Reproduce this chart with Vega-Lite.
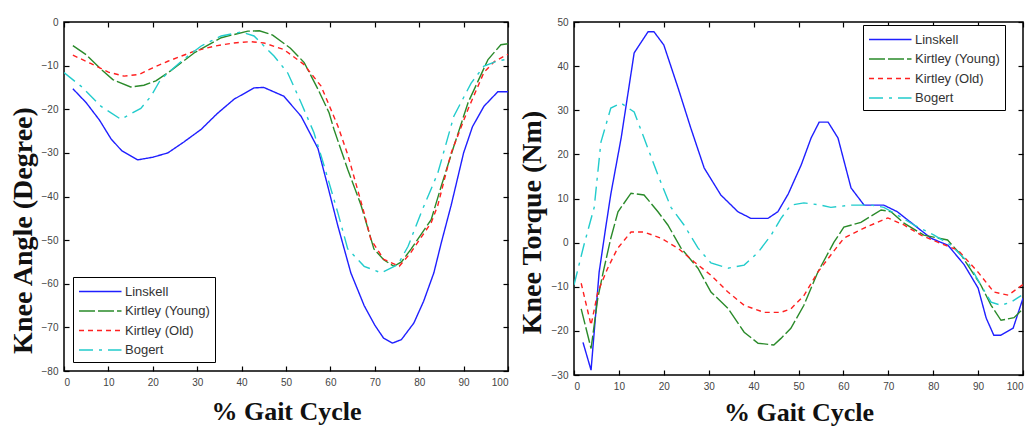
{
  "$schema": "https://vega.github.io/schema/vega-lite/v6.json",
  "autosize": {"type": "pad"},
  "padding": {"left": 8, "top": 16, "right": 0, "bottom": 0},
  "background": "white",
  "bounds": "flush",
  "spacing": 66,
  "config": {
    "view": {"stroke": "black", "strokeWidth": 1.5},
    "axis": {"grid": false, "domain": false, "tickSize": -5, "tickColor": "black", "tickWidth": 1.2, "labelFont": "Liberation Sans", "labelFontSize": 10, "labelColor": "#444", "labelPadding": 11, "titleFont": "Liberation Serif", "titleFontWeight": "bold", "titleColor": "#111"},
    "legend": {"labelFont": "Liberation Sans", "labelFontSize": 13, "labelColor": "#333", "symbolType": "M-1,0H4", "symbolSize": 289, "symbolStrokeWidth": 1.5, "rowPadding": 2.5, "padding": 5, "strokeColor": "black", "fillColor": "white", "orient": "none", "labelOffset": 28}
  },
  "datasets": {
    "angle": [
      {"x": 2, "y": -15.3, "s": "Linskell"}, {"x": 5, "y": -18.5, "s": "Linskell"}, {"x": 8, "y": -22.5, "s": "Linskell"}, {"x": 10.6, "y": -26.8, "s": "Linskell"}, {"x": 13, "y": -29.5, "s": "Linskell"}, {"x": 16.6, "y": -31.6, "s": "Linskell"}, {"x": 20, "y": -31, "s": "Linskell"}, {"x": 23.4, "y": -30, "s": "Linskell"}, {"x": 27, "y": -27.5, "s": "Linskell"}, {"x": 30.9, "y": -24.6, "s": "Linskell"}, {"x": 34.5, "y": -21, "s": "Linskell"}, {"x": 38.3, "y": -17.7, "s": "Linskell"}, {"x": 42.8, "y": -15.1, "s": "Linskell"}, {"x": 45, "y": -15, "s": "Linskell"}, {"x": 49.5, "y": -17, "s": "Linskell"}, {"x": 53.4, "y": -21.6, "s": "Linskell"}, {"x": 57.2, "y": -29, "s": "Linskell"}, {"x": 59.5, "y": -38, "s": "Linskell"}, {"x": 61.7, "y": -46.8, "s": "Linskell"}, {"x": 64.6, "y": -57.5, "s": "Linskell"}, {"x": 67.6, "y": -65, "s": "Linskell"}, {"x": 70, "y": -69.5, "s": "Linskell"}, {"x": 72, "y": -72.5, "s": "Linskell"}, {"x": 74, "y": -73.6, "s": "Linskell"}, {"x": 76, "y": -72.8, "s": "Linskell"}, {"x": 78.8, "y": -69, "s": "Linskell"}, {"x": 81, "y": -64, "s": "Linskell"}, {"x": 83.3, "y": -57.5, "s": "Linskell"}, {"x": 85, "y": -50.5, "s": "Linskell"}, {"x": 87.2, "y": -42, "s": "Linskell"}, {"x": 90, "y": -30, "s": "Linskell"}, {"x": 92, "y": -24, "s": "Linskell"}, {"x": 94.6, "y": -19.3, "s": "Linskell"}, {"x": 97.7, "y": -16, "s": "Linskell"}, {"x": 100, "y": -16, "s": "Linskell"},
      {"x": 2, "y": -5.4, "s": "Kirtley (Young)"}, {"x": 5, "y": -7.5, "s": "Kirtley (Young)"}, {"x": 8, "y": -10.5, "s": "Kirtley (Young)"}, {"x": 11, "y": -13.2, "s": "Kirtley (Young)"}, {"x": 15, "y": -14.9, "s": "Kirtley (Young)"}, {"x": 18, "y": -14.5, "s": "Kirtley (Young)"}, {"x": 20.7, "y": -13.5, "s": "Kirtley (Young)"}, {"x": 24, "y": -11.2, "s": "Kirtley (Young)"}, {"x": 29.3, "y": -7.1, "s": "Kirtley (Young)"}, {"x": 35.4, "y": -3.6, "s": "Kirtley (Young)"}, {"x": 41.4, "y": -2.1, "s": "Kirtley (Young)"}, {"x": 44, "y": -2, "s": "Kirtley (Young)"}, {"x": 47, "y": -3, "s": "Kirtley (Young)"}, {"x": 51, "y": -6, "s": "Kirtley (Young)"}, {"x": 54.1, "y": -9.3, "s": "Kirtley (Young)"}, {"x": 57.2, "y": -15.4, "s": "Kirtley (Young)"}, {"x": 59.7, "y": -20.8, "s": "Kirtley (Young)"}, {"x": 60.8, "y": -24.6, "s": "Kirtley (Young)"}, {"x": 63.9, "y": -33.8, "s": "Kirtley (Young)"}, {"x": 66.9, "y": -42, "s": "Kirtley (Young)"}, {"x": 69.8, "y": -52, "s": "Kirtley (Young)"}, {"x": 72, "y": -54.5, "s": "Kirtley (Young)"}, {"x": 74.3, "y": -56, "s": "Kirtley (Young)"}, {"x": 76, "y": -55, "s": "Kirtley (Young)"}, {"x": 78.2, "y": -52, "s": "Kirtley (Young)"}, {"x": 82.7, "y": -45.3, "s": "Kirtley (Young)"}, {"x": 85, "y": -37.5, "s": "Kirtley (Young)"}, {"x": 87.8, "y": -28.5, "s": "Kirtley (Young)"}, {"x": 91, "y": -18.5, "s": "Kirtley (Young)"}, {"x": 95.5, "y": -8.6, "s": "Kirtley (Young)"}, {"x": 98.4, "y": -5.2, "s": "Kirtley (Young)"}, {"x": 100, "y": -5, "s": "Kirtley (Young)"},
      {"x": 2, "y": -7.6, "s": "Kirtley (Old)"}, {"x": 6, "y": -9.5, "s": "Kirtley (Old)"}, {"x": 10, "y": -11.5, "s": "Kirtley (Old)"}, {"x": 13.5, "y": -12.4, "s": "Kirtley (Old)"}, {"x": 17, "y": -12, "s": "Kirtley (Old)"}, {"x": 20, "y": -10.5, "s": "Kirtley (Old)"}, {"x": 23.4, "y": -9, "s": "Kirtley (Old)"}, {"x": 29.3, "y": -6.7, "s": "Kirtley (Old)"}, {"x": 34, "y": -5.5, "s": "Kirtley (Old)"}, {"x": 38.3, "y": -4.8, "s": "Kirtley (Old)"}, {"x": 42, "y": -4.5, "s": "Kirtley (Old)"}, {"x": 45, "y": -4.8, "s": "Kirtley (Old)"}, {"x": 49.5, "y": -6.3, "s": "Kirtley (Old)"}, {"x": 54, "y": -9.7, "s": "Kirtley (Old)"}, {"x": 57.9, "y": -14.7, "s": "Kirtley (Old)"}, {"x": 61.7, "y": -23.9, "s": "Kirtley (Old)"}, {"x": 64, "y": -30.7, "s": "Kirtley (Old)"}, {"x": 67.6, "y": -43.8, "s": "Kirtley (Old)"}, {"x": 69.1, "y": -49.8, "s": "Kirtley (Old)"}, {"x": 72, "y": -54.4, "s": "Kirtley (Old)"}, {"x": 75.5, "y": -56, "s": "Kirtley (Old)"}, {"x": 78, "y": -53, "s": "Kirtley (Old)"}, {"x": 82.7, "y": -46, "s": "Kirtley (Old)"}, {"x": 84.2, "y": -42, "s": "Kirtley (Old)"}, {"x": 87.2, "y": -30, "s": "Kirtley (Old)"}, {"x": 91, "y": -20, "s": "Kirtley (Old)"}, {"x": 94.6, "y": -11.5, "s": "Kirtley (Old)"}, {"x": 97, "y": -9, "s": "Kirtley (Old)"}, {"x": 100, "y": -7.4, "s": "Kirtley (Old)"},
      {"x": 0, "y": -11.6, "s": "Bogert"}, {"x": 3.8, "y": -14.7, "s": "Bogert"}, {"x": 8.3, "y": -19.3, "s": "Bogert"}, {"x": 12.8, "y": -22.3, "s": "Bogert"}, {"x": 17.3, "y": -19.8, "s": "Bogert"}, {"x": 19.6, "y": -17, "s": "Bogert"}, {"x": 21.8, "y": -13.1, "s": "Bogert"}, {"x": 27, "y": -8.5, "s": "Bogert"}, {"x": 30.9, "y": -5.5, "s": "Bogert"}, {"x": 35.4, "y": -3.2, "s": "Bogert"}, {"x": 39.9, "y": -2.3, "s": "Bogert"}, {"x": 42.8, "y": -3.2, "s": "Bogert"}, {"x": 47.3, "y": -7.8, "s": "Bogert"}, {"x": 50.4, "y": -11.7, "s": "Bogert"}, {"x": 53.4, "y": -18.5, "s": "Bogert"}, {"x": 56.3, "y": -25.4, "s": "Bogert"}, {"x": 58.6, "y": -33, "s": "Bogert"}, {"x": 61.7, "y": -43.8, "s": "Bogert"}, {"x": 63.9, "y": -52, "s": "Bogert"}, {"x": 67.6, "y": -56, "s": "Bogert"}, {"x": 71.4, "y": -57.5, "s": "Bogert"}, {"x": 75.2, "y": -55.6, "s": "Bogert"}, {"x": 77.5, "y": -51.4, "s": "Bogert"}, {"x": 80.4, "y": -43.8, "s": "Bogert"}, {"x": 84.2, "y": -34.6, "s": "Bogert"}, {"x": 87.8, "y": -21.6, "s": "Bogert"}, {"x": 91.7, "y": -14, "s": "Bogert"}, {"x": 94.6, "y": -10.1, "s": "Bogert"}, {"x": 97.7, "y": -8.9, "s": "Bogert"}, {"x": 100, "y": -8.5, "s": "Bogert"}
    ],
    "torque": [
      {"x": 2, "y": -22.6, "s": "Linskell"}, {"x": 3.8, "y": -28.9, "s": "Linskell"}, {"x": 5.6, "y": -6.7, "s": "Linskell"}, {"x": 7, "y": 3, "s": "Linskell"}, {"x": 8.2, "y": 11, "s": "Linskell"}, {"x": 10.5, "y": 23.7, "s": "Linskell"}, {"x": 13.4, "y": 43, "s": "Linskell"}, {"x": 16.5, "y": 47.8, "s": "Linskell"}, {"x": 17.8, "y": 47.8, "s": "Linskell"}, {"x": 20, "y": 44.8, "s": "Linskell"}, {"x": 23.2, "y": 35, "s": "Linskell"}, {"x": 26, "y": 26, "s": "Linskell"}, {"x": 29, "y": 16.9, "s": "Linskell"}, {"x": 32.7, "y": 10.8, "s": "Linskell"}, {"x": 36.5, "y": 7, "s": "Linskell"}, {"x": 39.4, "y": 5.5, "s": "Linskell"}, {"x": 43.2, "y": 5.5, "s": "Linskell"}, {"x": 45.4, "y": 7, "s": "Linskell"}, {"x": 47.7, "y": 11, "s": "Linskell"}, {"x": 50.6, "y": 17.6, "s": "Linskell"}, {"x": 52.8, "y": 23.7, "s": "Linskell"}, {"x": 54.6, "y": 27.3, "s": "Linskell"}, {"x": 56.6, "y": 27.3, "s": "Linskell"}, {"x": 58.8, "y": 23.7, "s": "Linskell"}, {"x": 61.7, "y": 12.4, "s": "Linskell"}, {"x": 64.6, "y": 8.5, "s": "Linskell"}, {"x": 69, "y": 8.5, "s": "Linskell"}, {"x": 72, "y": 7, "s": "Linskell"}, {"x": 79.5, "y": 1, "s": "Linskell"}, {"x": 83.3, "y": -0.6, "s": "Linskell"}, {"x": 86.9, "y": -5, "s": "Linskell"}, {"x": 90, "y": -10.3, "s": "Linskell"}, {"x": 91.8, "y": -17.1, "s": "Linskell"}, {"x": 93.5, "y": -21, "s": "Linskell"}, {"x": 95, "y": -21, "s": "Linskell"}, {"x": 97.8, "y": -19.4, "s": "Linskell"}, {"x": 100, "y": -12.6, "s": "Linskell"},
      {"x": 1.6, "y": -15, "s": "Kirtley (Young)"}, {"x": 3.8, "y": -24, "s": "Kirtley (Young)"}, {"x": 5.3, "y": -12.6, "s": "Kirtley (Young)"}, {"x": 6.5, "y": -6.7, "s": "Kirtley (Young)"}, {"x": 8.2, "y": 1, "s": "Kirtley (Young)"}, {"x": 9.8, "y": 7, "s": "Kirtley (Young)"}, {"x": 12.7, "y": 11.2, "s": "Kirtley (Young)"}, {"x": 15.6, "y": 10.8, "s": "Kirtley (Young)"}, {"x": 18.7, "y": 7, "s": "Kirtley (Young)"}, {"x": 20.9, "y": 4, "s": "Kirtley (Young)"}, {"x": 23.8, "y": -1.2, "s": "Kirtley (Young)"}, {"x": 27.6, "y": -5.8, "s": "Kirtley (Young)"}, {"x": 30.5, "y": -11.2, "s": "Kirtley (Young)"}, {"x": 34.3, "y": -14.9, "s": "Kirtley (Young)"}, {"x": 37.9, "y": -20.3, "s": "Kirtley (Young)"}, {"x": 41, "y": -22.8, "s": "Kirtley (Young)"}, {"x": 44.5, "y": -23.2, "s": "Kirtley (Young)"}, {"x": 46.1, "y": -21.7, "s": "Kirtley (Young)"}, {"x": 48.3, "y": -19.4, "s": "Kirtley (Young)"}, {"x": 51.2, "y": -14.2, "s": "Kirtley (Young)"}, {"x": 54.3, "y": -6.7, "s": "Kirtley (Young)"}, {"x": 57.9, "y": 0.1, "s": "Kirtley (Young)"}, {"x": 60.1, "y": 3.5, "s": "Kirtley (Young)"}, {"x": 63.9, "y": 4.6, "s": "Kirtley (Young)"}, {"x": 68.4, "y": 7.4, "s": "Kirtley (Young)"}, {"x": 70.6, "y": 7, "s": "Kirtley (Young)"}, {"x": 73.5, "y": 4.4, "s": "Kirtley (Young)"}, {"x": 77.9, "y": 1.7, "s": "Kirtley (Young)"}, {"x": 83.2, "y": 0.6, "s": "Kirtley (Young)"}, {"x": 86.2, "y": -2.8, "s": "Kirtley (Young)"}, {"x": 88.4, "y": -6.2, "s": "Kirtley (Young)"}, {"x": 90.6, "y": -9.6, "s": "Kirtley (Young)"}, {"x": 92.9, "y": -14.2, "s": "Kirtley (Young)"}, {"x": 95.1, "y": -17.6, "s": "Kirtley (Young)"}, {"x": 98, "y": -17, "s": "Kirtley (Young)"}, {"x": 100, "y": -15, "s": "Kirtley (Young)"},
      {"x": 1.6, "y": -9.2, "s": "Kirtley (Old)"}, {"x": 3.8, "y": -18.7, "s": "Kirtley (Old)"}, {"x": 5.3, "y": -11.2, "s": "Kirtley (Old)"}, {"x": 7.5, "y": -5.8, "s": "Kirtley (Old)"}, {"x": 9.7, "y": -1.3, "s": "Kirtley (Old)"}, {"x": 12.7, "y": 2.4, "s": "Kirtley (Old)"}, {"x": 15.6, "y": 2.4, "s": "Kirtley (Old)"}, {"x": 19.4, "y": 1, "s": "Kirtley (Old)"}, {"x": 23.2, "y": -1.3, "s": "Kirtley (Old)"}, {"x": 26.8, "y": -4.4, "s": "Kirtley (Old)"}, {"x": 30.5, "y": -7.4, "s": "Kirtley (Old)"}, {"x": 34.3, "y": -11.2, "s": "Kirtley (Old)"}, {"x": 37.9, "y": -14.2, "s": "Kirtley (Old)"}, {"x": 42.3, "y": -15.8, "s": "Kirtley (Old)"}, {"x": 46.1, "y": -15.8, "s": "Kirtley (Old)"}, {"x": 48.3, "y": -15, "s": "Kirtley (Old)"}, {"x": 51.2, "y": -12, "s": "Kirtley (Old)"}, {"x": 54.3, "y": -6.7, "s": "Kirtley (Old)"}, {"x": 57.2, "y": -2.8, "s": "Kirtley (Old)"}, {"x": 60.1, "y": 1, "s": "Kirtley (Old)"}, {"x": 64.6, "y": 3.3, "s": "Kirtley (Old)"}, {"x": 69.9, "y": 5.6, "s": "Kirtley (Old)"}, {"x": 73.5, "y": 4, "s": "Kirtley (Old)"}, {"x": 77.3, "y": 1.7, "s": "Kirtley (Old)"}, {"x": 81, "y": 0.1, "s": "Kirtley (Old)"}, {"x": 85.5, "y": -1.7, "s": "Kirtley (Old)"}, {"x": 90, "y": -6.7, "s": "Kirtley (Old)"}, {"x": 93.5, "y": -11.2, "s": "Kirtley (Old)"}, {"x": 96.7, "y": -11.9, "s": "Kirtley (Old)"}, {"x": 98.9, "y": -10.3, "s": "Kirtley (Old)"}, {"x": 100, "y": -9.5, "s": "Kirtley (Old)"},
      {"x": 0, "y": -9.6, "s": "Bogert"}, {"x": 2.2, "y": -0.6, "s": "Bogert"}, {"x": 4.5, "y": 8, "s": "Bogert"}, {"x": 6, "y": 22.8, "s": "Bogert"}, {"x": 8.2, "y": 30.5, "s": "Bogert"}, {"x": 10.5, "y": 31.6, "s": "Bogert"}, {"x": 13.4, "y": 29.6, "s": "Bogert"}, {"x": 15.6, "y": 23.7, "s": "Bogert"}, {"x": 18.7, "y": 15.3, "s": "Bogert"}, {"x": 21.6, "y": 8, "s": "Bogert"}, {"x": 24.5, "y": 4, "s": "Bogert"}, {"x": 27.6, "y": -1.2, "s": "Bogert"}, {"x": 30.5, "y": -4.6, "s": "Bogert"}, {"x": 34.3, "y": -5.8, "s": "Bogert"}, {"x": 37.9, "y": -5.1, "s": "Bogert"}, {"x": 41, "y": -2.2, "s": "Bogert"}, {"x": 43.9, "y": 1.7, "s": "Bogert"}, {"x": 46.1, "y": 5.5, "s": "Bogert"}, {"x": 48.3, "y": 8.5, "s": "Bogert"}, {"x": 51.2, "y": 9, "s": "Bogert"}, {"x": 55, "y": 8.5, "s": "Bogert"}, {"x": 57.2, "y": 8, "s": "Bogert"}, {"x": 61.7, "y": 8.5, "s": "Bogert"}, {"x": 66.1, "y": 8.5, "s": "Bogert"}, {"x": 69, "y": 8, "s": "Bogert"}, {"x": 71.3, "y": 6.7, "s": "Bogert"}, {"x": 75.7, "y": 4, "s": "Bogert"}, {"x": 80.2, "y": 1.7, "s": "Bogert"}, {"x": 84, "y": -0.6, "s": "Bogert"}, {"x": 87.7, "y": -4.4, "s": "Bogert"}, {"x": 90.6, "y": -9.6, "s": "Bogert"}, {"x": 92.9, "y": -13.5, "s": "Bogert"}, {"x": 95.1, "y": -14.2, "s": "Bogert"}, {"x": 97.3, "y": -13.5, "s": "Bogert"}, {"x": 99.6, "y": -12, "s": "Bogert"}
    ]
  },
  "resolve": {"legend": {"color": "independent", "strokeDash": "independent"}},
  "hconcat": [
    {
      "width": 444, "height": 349,
      "data": {"name": "angle"},
      "layer": [
        {
          "mark": {"type": "line", "strokeWidth": 1.4, "clip": true},
          "encoding": {
            "x": {"field": "x", "type": "quantitative", "scale": {"domain": [0, 100], "nice": false}, "axis": {"values": [0,10,20,30,40,50,60,70,80,90,100], "title": "% Gait Cycle", "titleFontSize": 26, "titleY": 40, "titleBaseline": "middle"}},
            "y": {"field": "y", "type": "quantitative", "scale": {"domain": [-80, 0], "nice": false}, "axis": {"values": [-80,-70,-60,-50,-40,-30,-20,-10,0], "title": "Knee Angle (Degree)", "titleFontSize": 28, "titleX": -41, "titleY": 208, "titleBaseline": "middle"}},
            "color": {"field": "s", "type": "nominal", "sort": null, "scale": {"domain": ["Linskell", "Kirtley (Young)", "Kirtley (Old)", "Bogert"], "range": ["#1f1fff", "#2a8a2a", "#ff2020", "#22cccc"]}, "legend": {"title": null, "legendX": 9, "legendY": 255}},
            "strokeDash": {"field": "s", "type": "nominal", "sort": null, "scale": {"domain": ["Linskell", "Kirtley (Young)", "Kirtley (Old)", "Bogert"], "range": [[1, 0], [16, 3], [5, 4], [14, 6, 3, 6]]}, "legend": {"title": null, "legendX": 9, "legendY": 255}}
          }
        },
        {
          "mark": {"type": "line", "opacity": 0},
          "encoding": {
            "x": {"field": "x", "type": "quantitative", "scale": {"domain": [0, 100], "nice": false}, "axis": {"orient": "top", "values": [0,10,20,30,40,50,60,70,80,90,100], "labels": false, "title": null}},
            "y": {"field": "y", "type": "quantitative", "scale": {"domain": [-80, 0], "nice": false}, "axis": {"orient": "right", "values": [-80,-70,-60,-50,-40,-30,-20,-10,0], "labels": false, "title": null}}
          }
        }
      ],
      "resolve": {"axis": {"x": "independent", "y": "independent"}}
    },
    {
      "width": 449, "height": 353,
      "data": {"name": "torque"},
      "layer": [
        {
          "mark": {"type": "line", "strokeWidth": 1.4, "clip": true},
          "encoding": {
            "x": {"field": "x", "type": "quantitative", "scale": {"domain": [0, 100], "nice": false}, "axis": {"values": [0,10,20,30,40,50,60,70,80,90,100], "title": "% Gait Cycle", "titleFontSize": 26, "titleY": 37, "titleBaseline": "middle"}},
            "y": {"field": "y", "type": "quantitative", "scale": {"domain": [-30, 50], "nice": false}, "axis": {"values": [-30,-20,-10,0,10,20,30,40,50], "title": "Knee Torque (Nm)", "titleFontSize": 28, "titleX": -42, "titleY": 200, "titleBaseline": "middle"}},
            "color": {"field": "s", "type": "nominal", "sort": null, "scale": {"domain": ["Linskell", "Kirtley (Young)", "Kirtley (Old)", "Bogert"], "range": ["#1f1fff", "#2a8a2a", "#ff2020", "#22cccc"]}, "legend": {"title": null, "legendX": 289, "legendY": 3}},
            "strokeDash": {"field": "s", "type": "nominal", "sort": null, "scale": {"domain": ["Linskell", "Kirtley (Young)", "Kirtley (Old)", "Bogert"], "range": [[1, 0], [16, 3], [5, 4], [14, 6, 3, 6]]}, "legend": {"title": null, "legendX": 289, "legendY": 3}}
          }
        },
        {
          "mark": {"type": "line", "opacity": 0},
          "encoding": {
            "x": {"field": "x", "type": "quantitative", "scale": {"domain": [0, 100], "nice": false}, "axis": {"orient": "top", "values": [0,10,20,30,40,50,60,70,80,90,100], "labels": false, "title": null}},
            "y": {"field": "y", "type": "quantitative", "scale": {"domain": [-30, 50], "nice": false}, "axis": {"orient": "right", "values": [-30,-20,-10,0,10,20,30,40,50], "labels": false, "title": null}}
          }
        }
      ],
      "resolve": {"axis": {"x": "independent", "y": "independent"}}
    }
  ]
}
